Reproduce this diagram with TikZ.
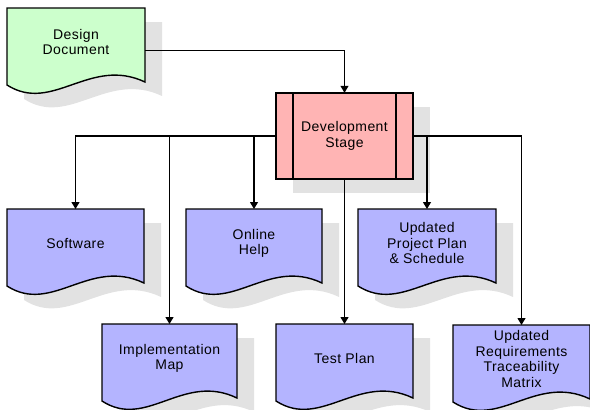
\documentclass[tikz,border=0pt]{standalone}
\usepackage{fontspec}
\setmainfont{Liberation Sans}[LetterSpace=3]
\usetikzlibrary{arrows.meta}
\definecolor{docgreen}{HTML}{CCFFCC}
\definecolor{devpink}{HTML}{FFB4B4}
\definecolor{docblue}{HTML}{B4B4FF}
\definecolor{shadowgray}{HTML}{E2E2E2}
\tikzset{
  shadowfill/.style={fill=shadowgray},
  boxline/.style={draw=black, line width=1.4pt, line join=miter},
  lbl/.style={draw=none, inner sep=0pt, minimum height=68pt, anchor=north, align=center,
    font=\fontsize{14}{15.5}\selectfont},
  conn/.style={draw=black, line width=1.1pt},
  arr/.style={conn, -{Triangle[width=8pt,length=7pt]}},
}
% #1 x, #2 y (top-left), #3 width, #4 fill colour
\newcommand\docbox[4]{%
  \fill[shadowfill] (#1+17,#2+14) -- (#1+#3+17,#2+14) -- (#1+#3+17,#2+88)
    .. controls (#1+0.6*#3+17,#2+62) and (#1+0.33*#3+17,#2+120) .. (#1+17,#2+91) -- cycle;
  \filldraw[boxline, fill=#4] (#1,#2) -- (#1+#3,#2) -- (#1+#3,#2+74)
    .. controls (#1+0.6*#3,#2+48) and (#1+0.33*#3,#2+106) .. (#1,#2+77) -- cycle;
}
\begin{document}
\begin{tikzpicture}[x=1pt,y=-1pt]
\useasboundingbox (0,0) rectangle (590,410);
\clip (0,0) rectangle (590,410);
% documents
\docbox{7}{8}{138}{docgreen}
\docbox{7}{209}{137}{docblue}
\docbox{186}{209}{136}{docblue}
\docbox{358}{209}{138}{docblue}
\docbox{102}{324}{135}{docblue}
\docbox{276}{324}{137}{docblue}
\docbox{453}{325}{137}{docblue}
% development stage
\fill[shadowfill] (293,107) rectangle (430,193);
\filldraw[boxline, fill=devpink] (276,93) rectangle (413,179);
\draw[boxline] (293,93) -- (293,179) (396,93) -- (396,179);
% labels
\node[lbl] (dd) at (76,8) [minimum width=138pt] {Design\\Document};
\node[lbl, minimum width=137pt, minimum height=86pt, anchor=center] (dev) at (344.5,136) {Development\\Stage};
\node[lbl, minimum width=137pt] (sw) at (75.5,209) {Software};
\node[lbl, minimum width=136pt] (oh) at (254,209) {Online\\Help};
\node[lbl, minimum width=138pt] (pp) at (427,209) {Updated\\Project Plan\\\& Schedule};
\node[lbl, minimum width=135pt] (impl) at (169.5,324) {Implementation\\Map};
\node[lbl, minimum width=137pt] (tp) at (344.5,324) {Test Plan};
\node[lbl, minimum width=137pt] (rtm) at (521.5,325) {Updated\\Requirements\\Traceability\\Matrix};
% connectors
\draw[arr] ([yshift=-8pt]dd.east) -| (dev.north);
\draw[arr] (dev.west) -| (sw.north);
\draw[arr] (impl.north |- dev.west) -- (impl.north);
\draw[arr] (oh.north |- dev.west) -- (oh.north);
\draw[arr] (dev.south) -- (tp.north);
\draw[arr] (dev.east) -| (rtm.north);
\draw[arr] (pp.north |- dev.east) -- (pp.north);
\end{tikzpicture}
\end{document}
